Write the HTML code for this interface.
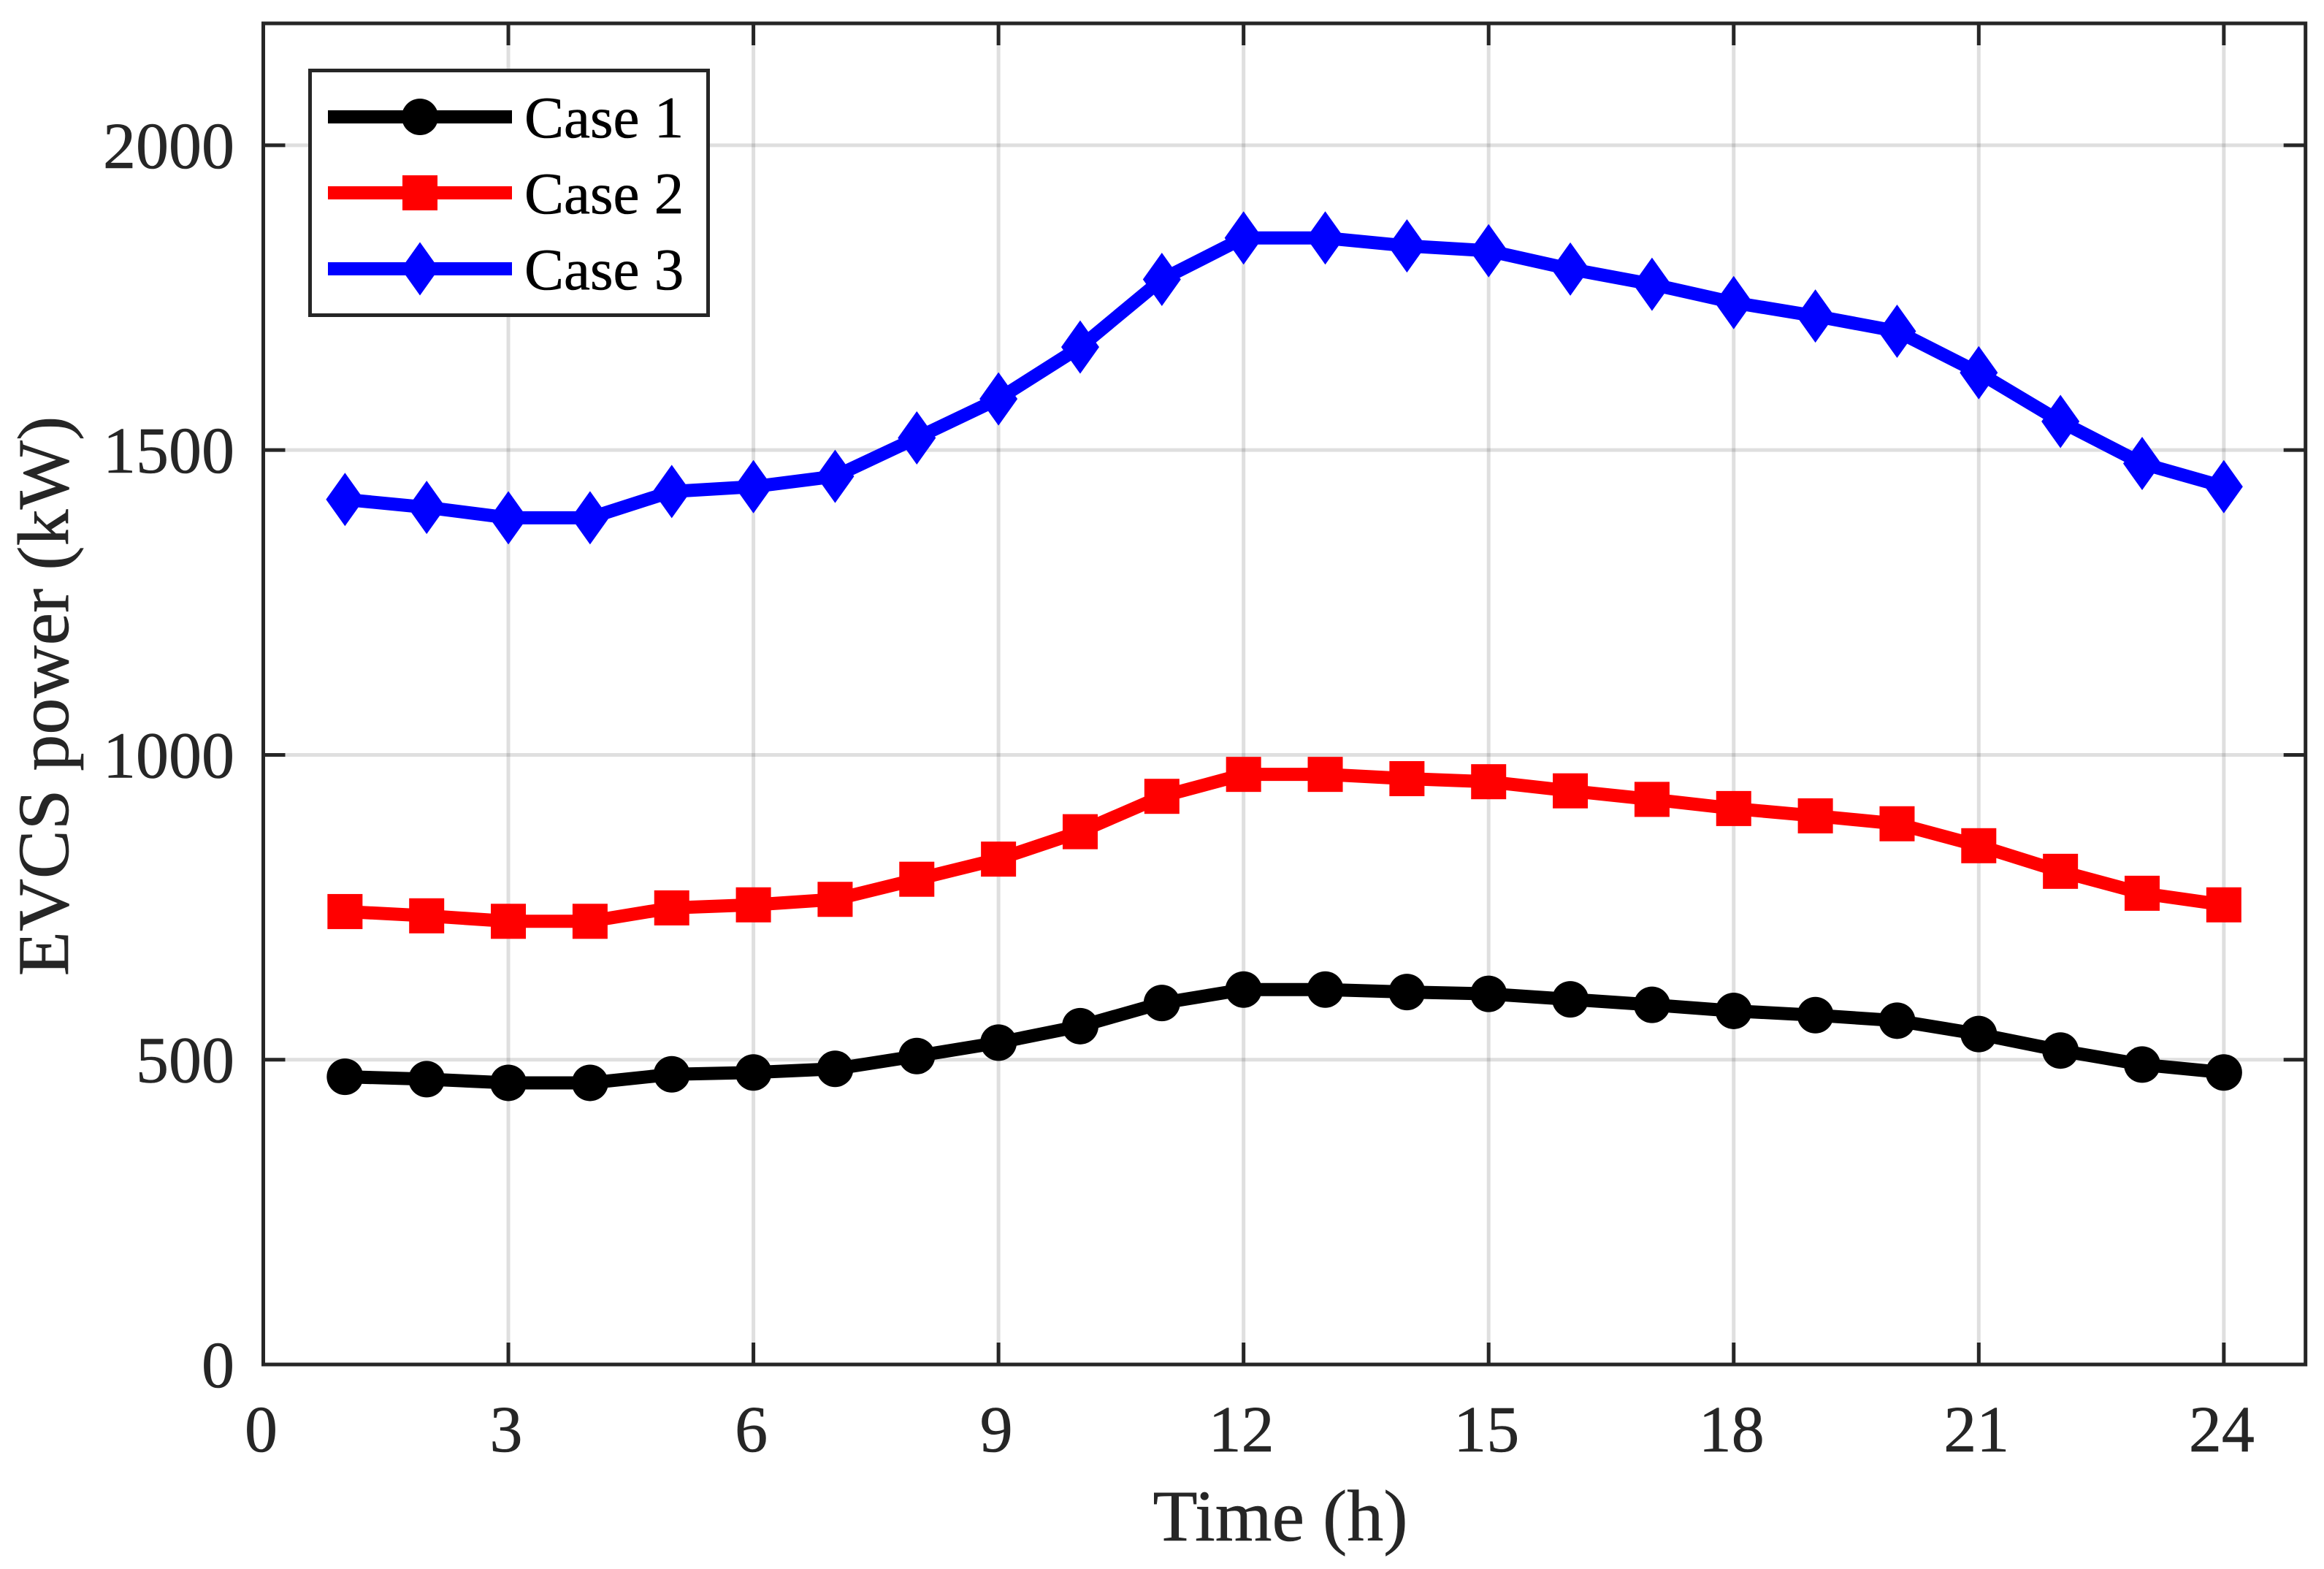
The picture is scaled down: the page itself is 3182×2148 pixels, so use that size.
<!DOCTYPE html>
<html>
<head>
<meta charset="utf-8">
<title>EVCS power</title>
<style>
html,body{margin:0;padding:0;background:#fff;}
svg{display:block;}
text{font-family:"Liberation Serif",serif;}
</style>
</head>
<body>
<svg id="chart" xmlns="http://www.w3.org/2000/svg" width="3182" height="2148" viewBox="0 0 3182 2148">
  <rect x="0" y="0" width="3182" height="2148" fill="#fff"/>
  <g id="grid"></g>
  <g id="series"></g>
  <g id="axes"></g>
  <text x="1753" y="2109" font-size="100" text-anchor="middle" fill="#262626" stroke="#262626" stroke-width="0.6">Time (h)</text>
  <text transform="translate(93,953) rotate(-90)" font-size="100" text-anchor="middle" fill="#262626" stroke="#262626" stroke-width="0.6">EVCS power (kW)</text>
  <g>
    <rect x="424.5" y="96.5" width="545" height="335" fill="#fff" stroke="#262626" stroke-width="5"/>
    <g>
      <line x1="449" y1="160" x2="701" y2="160" stroke="#000" stroke-width="18"/>
      <circle cx="575" cy="160" r="25" fill="#000"/>
      <text x="718" y="188" font-size="81" fill="#000" stroke="#000" stroke-width="0.6">Case 1</text>
    </g>
    <g>
      <line x1="449" y1="264" x2="701" y2="264" stroke="#f00" stroke-width="18"/>
      <rect x="551" y="240" width="48" height="48" fill="#f00"/>
      <text x="718" y="292" font-size="81" fill="#000" stroke="#000" stroke-width="0.6">Case 2</text>
    </g>
    <g>
      <line x1="449" y1="368" x2="701" y2="368" stroke="#00f" stroke-width="18"/>
      <polygon points="575,331.5 601,368 575,404.5 549,368" fill="#00f"/>
      <text x="718" y="396" font-size="81" fill="#000" stroke="#000" stroke-width="0.6">Case 3</text>
    </g>
  </g>
</svg>
<script>
var hours = [1,2,3,4,5,6,7,8,9,10,11,12,13,14,15,16,17,18,19,20,21,22,23,24];
var case1 = [472,468,462,462,476,479,485,506,528,555,593,615,615,611,608,599,590,580,573,564,542,515,492,479];
var case2 = [743,736,727,727,749,754,763,796,829,874,932,968,968,961,956,941,927,912,900,887,851,809,773,754];
var case3 = [1419,1406,1389,1389,1432,1440,1457,1520,1584,1669,1780,1848,1848,1835,1827,1797,1772,1742,1720,1695,1627,1547,1478,1440];
var xTicks = [0,3,6,9,12,15,18,21,24];
var yTicks = [0,500,1000,1500,2000];

var NS = 'http://www.w3.org/2000/svg';
var L = 360.5, R = 3156.7, T = 32, B = 1868, XMAX = 25, YMAX = 2200;
function sx(v){ return L + (R - L) * v / XMAX; }
function sy(v){ return B - (B - T) * v / YMAX; }
function make(tag, parent, attrs){
  var el = document.createElementNS(NS, tag);
  for (var k in attrs) el.setAttribute(k, attrs[k]);
  parent.appendChild(el);
  return el;
}
var grid = document.getElementById('grid');
var axes = document.getElementById('axes');
var seriesGroup = document.getElementById('series');
var AX = '#262626', TICK = 30;

xTicks.forEach(function(t){
  if (t === 0) return;
  var g = make('line', grid, {x1:sx(t), x2:sx(t), y1:T, y2:B, stroke:'#262626', 'stroke-opacity':0.15, 'stroke-width':5});
  
  
});
yTicks.forEach(function(t){
  if (t === 0) return;
  var g = make('line', grid, {x1:L, x2:R, y1:sy(t), y2:sy(t), stroke:'#262626', 'stroke-opacity':0.15, 'stroke-width':5});
  
  
});

function drawSeries(name, values, color, marker){
  var g = make('g', seriesGroup, {});
  
  
  var pts = values.map(function(v, i){ return sx(hours[i]) + ',' + sy(v); }).join(' ');
  var line = make('polyline', g, {points:pts, fill:'none', stroke:color, 'stroke-width':18, 'stroke-linejoin':'miter'});
  
  
  values.forEach(function(v, i){
    var x = sx(hours[i]), y = sy(v), m;
    if (marker === 'circle') {
      m = make('circle', g, {cx:x, cy:y, r:25, fill:color});
    } else if (marker === 'square') {
      m = make('rect', g, {x:x - 24, y:y - 24, width:48, height:48, fill:color});
    } else {
      m = make('polygon', g, {points:x + ',' + (y - 36.5) + ' ' + (x + 26) + ',' + y + ' ' + x + ',' + (y + 36.5) + ' ' + (x - 26) + ',' + y, fill:color});
    }
    
    
  });
}
drawSeries('series-case-1', case1, '#000', 'circle');
drawSeries('series-case-2', case2, '#f00', 'square');
drawSeries('series-case-3', case3, '#00f', 'diamond');

xTicks.forEach(function(t){
  if (t !== 0) {
    var a = make('line', axes, {x1:sx(t), x2:sx(t), y1:B, y2:B - TICK, stroke:AX, 'stroke-width':5});
    
    
    var b = make('line', axes, {x1:sx(t), x2:sx(t), y1:T, y2:T + TICK, stroke:AX, 'stroke-width':5});
    
    
  }
  var lab = make('text', axes, {x:sx(t) - 3, y:1987, 'font-size':90, 'text-anchor':'middle', fill:AX, stroke:AX, 'stroke-width':0.6});
  lab.textContent = String(t);
  
  
});
yTicks.forEach(function(t){
  if (t !== 0) {
    var a = make('line', axes, {x1:L, x2:L + TICK, y1:sy(t), y2:sy(t), stroke:AX, 'stroke-width':5});
    
    
    var b = make('line', axes, {x1:R, x2:R - TICK, y1:sy(t), y2:sy(t), stroke:AX, 'stroke-width':5});
    
    
  }
  var lab = make('text', axes, {x:321, y:sy(t) + 31, 'font-size':90, 'text-anchor':'end', fill:AX, stroke:AX, 'stroke-width':0.6});
  lab.textContent = String(t);
  
  
});
var box = make('rect', axes, {x:L, y:T, width:R - L, height:B - T, fill:'none', stroke:AX, 'stroke-width':5});


</script>
</body>
</html>
